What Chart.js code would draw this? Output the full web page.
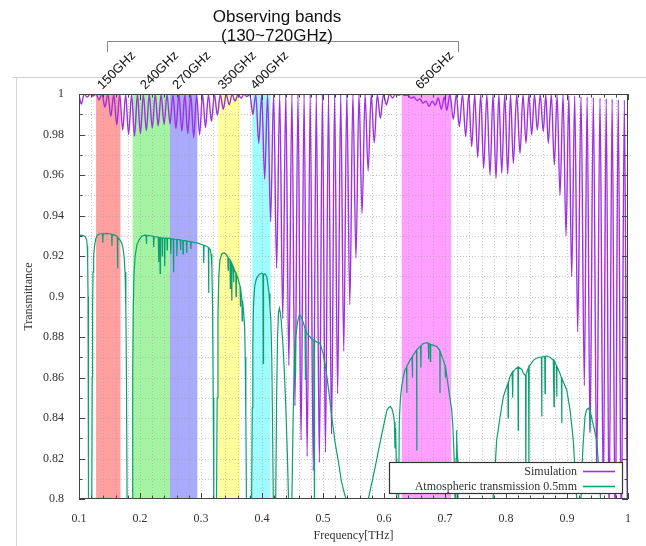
<!DOCTYPE html>
<html><head><meta charset="utf-8">
<script src="https://cdn.jsdelivr.net/npm/chart.js@4/dist/chart.umd.min.js"></script>
<style>html,body{margin:0;padding:0;background:#fff}#wrap{width:646px;height:546px;position:relative}</style>
</head><body><div id="wrap"><canvas id="c" width="646" height="546"></canvas></div>
<script>
// ---- Simulation (purple): alternating fringe peaks / troughs ----
const simFreq = [
0.100,0.1037,0.1085,0.1134,0.1182,0.1231,0.1280,0.1328,0.1376,0.1425,0.1473,0.1522,0.1570,0.1619,0.1668,0.1716,0.1765,0.1813,0.1862,0.1910,
0.1958,0.2007,0.2055,0.2104,0.2152,0.2201,0.2250,0.2298,0.2346,0.2395,0.2443,0.2492,0.2540,0.2589,0.2638,0.2686,0.2735,0.2783,0.2832,0.2880,
0.2928,0.2977,0.3025,0.3074,0.3122,0.3171,0.3220,0.3268,0.3316,0.3365,0.3413,0.3462,0.3510,0.3559,0.3608,0.3656,0.3705,0.3753,0.3800,0.3850,
0.3898,0.3947,0.3995,0.4044,0.4092,0.4141,0.4190,0.4240,0.4290,0.4340,0.4390,0.4440,0.4490,0.4540,0.4590,0.4640,0.4690,0.4740,0.4790,0.4840,
0.4890,0.4940,0.4990,0.5040,0.5090,0.5140,0.5190,0.5240,0.5290,0.5340,0.5390,0.5440,0.5490,0.5540,0.5590,0.5640,0.5690,0.5740,0.5790,0.5840,
0.5890,0.5940,0.5990,0.6040,0.6090,0.6140,0.6190,0.6240,0.6290,0.6340,0.6390,0.6440,0.6490,0.6540,0.6590,0.6640,0.6690,0.6740,0.6790,0.6840,
0.6890,0.6940,0.6990,0.7028,0.7082,0.7136,0.7185,0.7234,0.7287,0.7339,0.7389,0.7438,0.7487,0.7536,0.7585,0.7634,0.7686,0.7738,0.7787,0.7836,
0.7883,0.7930,0.7979,0.8028,0.8074,0.8120,0.8175,0.8230,0.8279,0.8328,0.8375,0.8421,0.8467,0.8513,0.8562,0.8611,0.8652,0.8693,0.8743,0.8792,
0.8838,0.8885,0.8935,0.8984,0.9030,0.9077,0.9126,0.9175,0.9230,0.9284,0.9330,0.9377,0.9432,0.9487,0.9541,0.9595,0.9643,0.9690,0.9740,0.9790,
0.9840,0.9890,0.9940,0.9990,1.000];
const simTrans = [
0.9995,0.9950,1.0000,0.9985,1.0000,0.9990,1.0000,0.9970,1.0000,0.9935,1.0000,0.9890,0.9998,0.9848,0.9998,0.9822,0.9998,0.9800,0.9998,0.9792,
0.9998,0.9805,0.9998,0.9820,0.9998,0.9832,0.9998,0.9843,0.9998,0.9850,0.9998,0.9852,0.9998,0.9830,0.9998,0.9817,0.9998,0.9805,0.9998,0.9785,
0.9998,0.9800,0.9998,0.9835,0.9998,0.9865,0.9998,0.9895,0.9998,0.9925,0.9998,0.9947,0.9998,0.9965,0.9998,0.9980,0.9998,0.9988,0.9998,0.9900,
0.9998,0.9757,0.9998,0.9580,0.9998,0.9370,0.9998,0.9140,0.9998,0.8890,0.9998,0.8660,0.9998,0.8460,0.9998,0.8290,0.9998,0.8210,0.9998,0.8140,
0.9998,0.8180,0.9998,0.8230,0.9998,0.8320,0.9998,0.8520,0.9998,0.8730,0.9998,0.8960,0.9998,0.9190,0.9998,0.9410,0.9998,0.9620,0.9998,0.9760,
0.9998,0.9880,0.9998,0.9946,1.0000,0.9980,1.0000,0.9995,1.0000,0.9993,0.9995,0.9980,0.9985,0.9968,0.9975,0.9955,0.9965,0.9938,0.9965,0.9945,
0.9980,0.9925,0.9985,0.9920,0.9998,0.9875,0.9998,0.9840,0.9998,0.9790,0.9998,0.9740,0.9998,0.9687,0.9998,0.9633,0.9998,0.9600,0.9998,0.9584,
0.9998,0.9608,0.9998,0.9605,0.9998,0.9658,0.9998,0.9707,0.9998,0.9757,0.9998,0.9798,0.9998,0.9822,0.9998,0.9814,0.9998,0.9757,0.9998,0.9650,
0.9995,0.9500,0.9995,0.9300,0.9993,0.9098,0.9990,0.8826,0.9988,0.8560,0.9985,0.8326,0.9982,0.8130,0.9980,0.8030,0.9978,0.7900,0.9975,0.7800,
0.9972,0.7800,0.9970,0.7900,0.8500];

// ---- Atmospheric transmission 0.5mm (green) ----
const atmFreq = [
0.100,0.106,0.110,0.1125,0.1135,0.1142,0.1148,0.1153,0.1158,0.1168,0.1185,0.1200,0.1210,0.1217,0.1223,0.1230,0.1240,0.1255,0.1275,0.1300,
0.1350,0.1385,0.1390,0.1395,0.1450,0.1500,0.1535,0.1540,0.1545,0.1600,0.1628,0.1633,0.1638,0.1670,0.1700,0.1720,0.1740,0.1755,0.1768,0.1778,
0.1788,0.1800,0.1830,0.1860,0.1870,0.1880,0.1890,0.1902,0.1920,0.1950,0.1985,0.2030,0.2080,0.2100,0.2105,0.2110,0.2170,0.2220,0.2225,0.2230,
0.2280,0.2300,0.2305,0.2310,0.2325,0.2330,0.2335,0.2360,0.2365,0.2370,0.2400,0.2405,0.2410,0.2440,0.2445,0.2450,0.2500,0.2505,0.2510,0.2545,
0.2550,0.2555,0.2600,0.2605,0.2610,0.2660,0.2665,0.2670,0.2700,0.2705,0.2710,0.2760,0.2765,0.2770,0.2830,0.2835,0.2840,0.2900,0.2960,0.3000,
0.3040,0.3045,0.3050,0.3090,0.3120,0.3125,0.3130,0.3150,0.3165,0.3178,0.3190,0.3200,0.3210,0.3230,0.3255,0.3265,0.3278,0.3292,0.3310,0.3340,
0.3380,0.3420,0.3440,0.3445,0.3450,0.3475,0.3480,0.3485,0.3500,0.3505,0.3510,0.3530,0.3535,0.3540,0.3570,0.3575,0.3580,0.3610,0.3640,0.3645,
0.3650,0.3670,0.3675,0.3680,0.3700,0.3715,0.3725,0.3735,0.3745,0.3760,0.3800,0.3830,0.3840,0.3850,0.3860,0.3880,0.3910,0.3960,0.4000,0.4015,
0.4020,0.4025,0.4050,0.4080,0.4100,0.4115,0.4130,0.4145,0.4160,0.4172,0.4185,0.4200,0.4225,0.4240,0.4255,0.4270,0.4285,0.4300,0.4315,0.4340,
0.4365,0.4390,0.4415,0.4435,0.4460,0.4490,0.4510,0.4530,0.4545,0.4548,0.4552,0.4580,0.4612,0.4640,0.4680,0.4705,0.4710,0.4715,0.4740,0.4760,
0.4790,0.4820,0.4850,0.4855,0.4858,0.4861,0.4865,0.4900,0.4950,0.4980,0.5000,0.5050,0.5100,0.5150,0.5200,0.5250,0.5300,0.5350,0.5400,0.5450,
0.5570,0.5700,0.5750,0.5800,0.5857,0.5910,0.5967,0.6010,0.6049,0.6080,0.6103,0.6130,0.6155,0.6170,0.6180,0.6190,0.6200,0.6210,0.6220,0.6240,
0.6251,0.6270,0.6290,0.6320,0.6344,0.6370,0.6373,0.6376,0.6400,0.6426,0.6460,0.6465,0.6470,0.6500,0.6534,0.6537,0.6540,0.6580,0.6600,0.6605,
0.6610,0.6645,0.6700,0.6725,0.6730,0.6735,0.6754,0.6760,0.6765,0.6800,0.6864,0.6900,0.6915,0.6918,0.6921,0.6972,0.7000,0.7005,0.7010,0.7054,
0.7080,0.7110,0.7130,0.7150,0.7164,0.7175,0.7182,0.7188,0.7195,0.7205,0.7212,0.7300,0.7700,0.7787,0.7820,0.7847,0.7900,0.7956,0.8000,0.8030,
0.8035,0.8040,0.8066,0.8100,0.8110,0.8115,0.8150,0.8195,0.8200,0.8205,0.8260,0.8284,0.8320,0.8325,0.8330,0.8370,0.8375,0.8380,0.8450,0.8500,
0.8550,0.8580,0.8585,0.8590,0.8635,0.8640,0.8645,0.8667,0.8720,0.8775,0.8782,0.8787,0.8792,0.8810,0.8826,0.8831,0.8836,0.8885,0.8908,0.8913,
0.8918,0.8995,0.9050,0.9103,0.9130,0.9159,0.9180,0.9220,0.9240,0.9260,0.9295,0.9320,0.9350,0.9372,0.9377,0.9382,0.9420,0.9450,0.9487,0.9520,
0.9550,0.9580,1.0000];
const atmTrans = [
0.9302,0.9302,0.9296,0.9280,0.9250,0.9180,0.9000,0.8600,0.8000,0.7400,0.7000,0.7400,0.8000,0.8600,0.8950,0.9120,0.9200,0.9250,0.9285,0.9303,
0.9310,0.9310,0.9265,0.9310,0.9312,0.9310,0.9308,0.9250,0.9307,0.9302,0.9295,0.9140,0.9290,0.9280,0.9265,0.9240,0.9195,0.9120,0.8950,0.8600,
0.8000,0.7400,0.7000,0.7400,0.8000,0.8600,0.8950,0.9110,0.9200,0.9255,0.9280,0.9298,0.9303,0.9302,0.9260,0.9302,0.9300,0.9297,0.9245,0.9296,
0.9294,0.9293,0.9170,0.9292,0.9291,0.9114,0.9290,0.9289,0.9200,0.9289,0.9288,0.9150,0.9288,0.9288,0.9230,0.9287,0.9287,0.9210,0.9286,0.9285,
0.9120,0.9284,0.9283,0.9200,0.9282,0.9280,0.9230,0.9279,0.9278,0.9210,0.9277,0.9275,0.9215,0.9274,0.9270,0.9235,0.9269,0.9266,0.9262,0.9258,
0.9254,0.9165,0.9253,0.9248,0.9243,0.9017,0.9240,0.9232,0.9210,0.9150,0.8950,0.8500,0.8000,0.7200,0.8000,0.8500,0.8900,0.9100,0.9180,0.9210,
0.9216,0.9205,0.9195,0.9130,0.9190,0.9180,0.9040,0.9175,0.9165,0.8980,0.9160,0.9145,0.9070,0.9140,0.9115,0.9000,0.9110,0.9085,0.9050,0.8950,
0.9040,0.8990,0.8880,0.8980,0.8920,0.8850,0.8700,0.8400,0.8000,0.7500,0.7200,0.8000,0.8450,0.8750,0.8950,0.9050,0.9090,0.9110,0.9115,0.9110,
0.8670,0.9108,0.9112,0.9095,0.9050,0.9016,0.8950,0.8880,0.8700,0.8400,0.8000,0.7500,0.8000,0.8500,0.8800,0.8920,0.8942,0.8920,0.8880,0.8780,
0.8637,0.8456,0.8227,0.8000,0.7600,0.8000,0.8390,0.8686,0.8780,0.8604,0.8790,0.8870,0.8909,0.8900,0.8870,0.8840,0.8588,0.8835,0.8815,0.8810,
0.8800,0.8790,0.8785,0.8300,0.7900,0.8300,0.8782,0.8775,0.8770,0.8740,0.8720,0.8637,0.8520,0.8390,0.8275,0.8190,0.8090,0.8028,0.7980,0.7900,
0.7600,0.7900,0.8010,0.8080,0.8160,0.8240,0.8324,0.8385,0.8440,0.8452,0.8456,0.8445,0.8417,0.8380,0.8250,0.8350,0.8200,0.8000,0.7600,0.8000,
0.8390,0.8500,0.8555,0.8610,0.8637,0.8650,0.8523,0.8655,0.8670,0.8686,0.8700,0.8600,0.8705,0.8720,0.8735,0.8240,0.8736,0.8750,0.8755,0.8650,
0.8757,0.8768,0.8772,0.8770,0.8690,0.8768,0.8765,0.8680,0.8764,0.8760,0.8753,0.8740,0.8730,0.8523,0.8728,0.8686,0.8660,0.8600,0.8655,0.8555,
0.8500,0.8440,0.8350,0.8200,0.8000,0.7800,0.8200,0.8340,0.8300,0.8200,0.7800,0.7600,0.7600,0.8000,0.8150,0.8290,0.8400,0.8505,0.8545,0.8570,
0.8400,0.8575,0.8604,0.8625,0.8500,0.8628,0.8640,0.8652,0.8340,0.8652,0.8640,0.8620,0.8610,0.8100,0.8615,0.8650,0.8180,0.8655,0.8686,0.8695,
0.8700,0.8700,0.8407,0.8701,0.8704,0.8520,0.8705,0.8706,0.8700,0.8686,0.8686,0.8456,0.8683,0.8670,0.8660,0.8505,0.8655,0.8620,0.8600,0.8374,
0.8595,0.8540,0.8440,0.8290,0.8150,0.8000,0.7700,0.7900,0.8100,0.8250,0.8407,0.8440,0.8448,0.8435,0.8340,0.8430,0.8380,0.8340,0.8290,0.8150,
0.8000,0.7700,0.7700];

// ---- Observing bands ----
const bandNames  = ['150GHz','240GHz','270GHz','350GHz','400GHz','650GHz'];
const bandStart  = [0.128, 0.188, 0.249, 0.328, 0.384, 0.629];
const bandEnd    = [0.168, 0.249, 0.294, 0.364, 0.414, 0.710];
const bandColors = ['rgba(255,80,80,0.55)','rgba(90,235,90,0.55)','rgba(100,100,245,0.55)','rgba(255,255,90,0.6)','rgba(80,250,250,0.55)','rgba(255,80,255,0.55)'];

const seriesNames = ['Simulation','Atmospheric transmission 0.5mm'];
const seriesColors = ['#a030e0','#0e9e74'];

const SERIF = '"Liberation Serif", "DejaVu Serif", serif';
const SANS = '"Liberation Sans", Arial, sans-serif';

const isMajorX = v => Math.abs(v*10 - Math.round(v*10)) < 1e-6;
const isMajorY = v => Math.round(v*100) % 2 === 0;

const decor = {
  id: 'decor',
  beforeDatasetsDraw(chart) {
    const {ctx, chartArea: a, scales: {x, y}} = chart;
    ctx.save();
    for (let i = 0; i < bandNames.length; i++) {
      const x0 = x.getPixelForValue(bandStart[i]), x1 = x.getPixelForValue(bandEnd[i]);
      ctx.fillStyle = bandColors[i];
      ctx.fillRect(x0, a.top, x1 - x0, a.bottom - a.top);
    }
    ctx.strokeStyle = 'rgba(160,160,160,0.55)';
    ctx.lineWidth = 1;
    ctx.setLineDash([1, 2]);
    x.ticks.forEach(t => {
      const px = Math.round(x.getPixelForValue(t.value)) + 0.5;
      if (px <= a.left + 1 || px >= a.right - 1) return;
      ctx.beginPath(); ctx.moveTo(px, a.top); ctx.lineTo(px, a.bottom); ctx.stroke();
    });
    y.ticks.forEach(t => {
      const py = Math.round(y.getPixelForValue(t.value)) + 0.5;
      if (py <= a.top + 1 || py >= a.bottom - 1) return;
      ctx.beginPath(); ctx.moveTo(a.left, py); ctx.lineTo(a.right, py); ctx.stroke();
    });
    ctx.restore();
  },
  afterDraw(chart) {
    const {ctx, chartArea: a, scales: {x, y}} = chart;
    ctx.save();
    ctx.strokeStyle = '#d4d4d4'; ctx.lineWidth = 1;
    ctx.beginPath(); ctx.moveTo(12, 77.5); ctx.lineTo(646, 77.5); ctx.stroke();
    ctx.beginPath(); ctx.moveTo(16.5, 77.5); ctx.lineTo(16.5, 546); ctx.stroke();
    ctx.strokeStyle = '#444'; ctx.lineWidth = 1;
    ctx.strokeRect(Math.round(a.left) + 0.5, Math.round(a.top) + 0.5, Math.round(a.right - a.left) - 1, Math.round(a.bottom - a.top) - 1);
    ctx.beginPath();
    x.ticks.forEach(t => {
      const px = Math.round(x.getPixelForValue(t.value)) + 0.5;
      const L = isMajorX(t.value) ? 6 : 3.5;
      ctx.moveTo(px, a.bottom); ctx.lineTo(px, a.bottom - L);
      ctx.moveTo(px, a.top); ctx.lineTo(px, a.top + L);
    });
    y.ticks.forEach(t => {
      const py = Math.round(y.getPixelForValue(t.value)) + 0.5;
      const L = isMajorY(t.value) ? 6 : 3.5;
      ctx.moveTo(a.left, py); ctx.lineTo(a.left + L, py);
      ctx.moveTo(a.right, py); ctx.lineTo(a.right - L, py);
    });
    ctx.stroke();
    ctx.fillStyle = '#333';
    ctx.font = '12px ' + SERIF;
    ctx.textAlign = 'center'; ctx.textBaseline = 'middle';
    ctx.fillText('Frequency[THz]', (a.left + a.right) / 2, 536);
    ctx.save();
    ctx.translate(29, (a.top + a.bottom) / 2);
    ctx.rotate(-Math.PI / 2);
    ctx.fillText('Transmittance', 0, 0);
    ctx.restore();
    const lx0 = 389.5, ly0 = 462.5, lx1 = 622.5, ly1 = 493.5;
    ctx.fillStyle = '#fff'; ctx.fillRect(lx0, ly0, lx1 - lx0, ly1 - ly0);
    ctx.strokeStyle = '#333'; ctx.lineWidth = 1.2; ctx.strokeRect(lx0, ly0, lx1 - lx0, ly1 - ly0);
    ctx.font = '12px ' + SERIF; ctx.textAlign = 'right'; ctx.textBaseline = 'middle';
    const rows = [471, 486];
    for (let i = 0; i < seriesNames.length; i++) {
      ctx.fillStyle = '#333';
      ctx.fillText(seriesNames[i], 577, rows[i] + 0.5);
      ctx.strokeStyle = seriesColors[i]; ctx.lineWidth = 1.6;
      ctx.beginPath(); ctx.moveTo(583, rows[i] + 0.5); ctx.lineTo(615, rows[i] + 0.5); ctx.stroke();
    }
    ctx.fillStyle = '#111';
    ctx.font = '17px ' + SANS; ctx.textAlign = 'center'; ctx.textBaseline = 'middle';
    ctx.fillText('Observing bands', 277, 17);
    ctx.strokeStyle = '#8a8a8a'; ctx.lineWidth = 1;
    ctx.beginPath();
    ctx.moveTo(107.5, 52); ctx.lineTo(107.5, 41.5); ctx.lineTo(458.5, 41.5); ctx.lineTo(458.5, 52);
    ctx.stroke();
    ctx.fillText('(130~720GHz)', 277, 36);
    ctx.font = '13px ' + SANS; ctx.textAlign = 'left'; ctx.textBaseline = 'alphabetic';
    for (let i = 0; i < bandNames.length; i++) {
      const cx = x.getPixelForValue((bandStart[i] + bandEnd[i]) / 2) - 6;
      ctx.save();
      ctx.translate(cx, 90);
      ctx.rotate(-Math.PI / 4);
      ctx.fillText(bandNames[i], 0, 0);
      ctx.restore();
    }
    ctx.restore();
  }
};

const toXY = (xs, ys) => xs.map((v, i) => ({x: v, y: ys[i]}));

new Chart(document.getElementById('c'), {
  type: 'line',
  data: {
    datasets: [
      { label: seriesNames[0], data: toXY(simFreq, simTrans), borderColor: seriesColors[0], borderWidth: 1.4,
        pointRadius: 0, cubicInterpolationMode: 'monotone', order: 2, fill: false },
      { label: seriesNames[1], data: toXY(atmFreq, atmTrans), borderColor: seriesColors[1], borderWidth: 1.2,
        pointRadius: 0, tension: 0, order: 1, fill: false }
    ]
  },
  options: {
    responsive: false, animation: false, devicePixelRatio: 1,
    layout: { padding: { left: 0, top: 94, right: 18, bottom: 0 } },
    plugins: { legend: { display: false }, tooltip: { enabled: false } },
    scales: {
      x: {
        type: 'linear', min: 0.1, max: 1.0,
        grid: { display: false }, border: { display: false },
        afterFit: s => { s.height = 47; },
        ticks: { stepSize: 0.02, autoSkip: false, maxRotation: 0, minRotation: 0, padding: 5,
          color: '#333', font: { family: SERIF, size: 12 },
          callback: v => isMajorX(v) ? String(Number(v.toFixed(1))) : '' }
      },
      y: {
        min: 0.8, max: 1.0,
        grid: { display: false }, border: { display: false },
        afterFit: s => { s.width = 79; },
        ticks: { stepSize: 0.01, autoSkip: false, padding: 7,
          color: '#333', font: { family: SERIF, size: 12 },
          callback: v => isMajorY(v) ? String(Number(v.toFixed(2))) : '' }
      }
    }
  },
  plugins: [decor]
});
</script>
</body></html>
